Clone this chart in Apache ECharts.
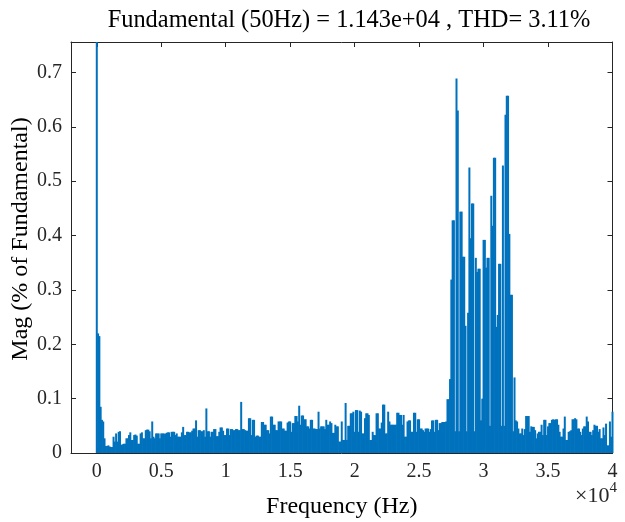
<!DOCTYPE html>
<html><head><meta charset="utf-8">
<script src="https://cdn.jsdelivr.net/npm/echarts@6/dist/echarts.min.js"></script>
<style>html,body{margin:0;padding:0;background:#fff}#c{width:625px;height:522px}</style>
</head><body><div id="c"></div>
<script>
const titleText = 'Fundamental (50Hz) = 1.143e+04 , THD= 3.11%';
const xAxisName = 'Frequency (Hz)';
const yAxisName = 'Mag (% of Fundamental)';
const xExponentText = '×10';
const xExponent = '4';
const freqStepHz = 100;
const xTickValues = [0, 5000, 10000, 15000, 20000, 25000, 30000, 35000, 40000];
const xTickLabels = ['0', '0.5', '1', '1.5', '2', '2.5', '3', '3.5', '4'];
const yTickValues = [0, 0.1, 0.2, 0.3, 0.4, 0.5, 0.6, 0.7];
const yTickLabels = ['0', '0.1', '0.2', '0.3', '0.4', '0.5', '0.6', '0.7'];

// Harmonic magnitude (% of fundamental), one value per 100 Hz bin, 0 .. 40000 Hz
const magPercent = [
 100, 0.22, 0.215, 0.085, 0.061, 0.058, 0.027, 0.013, 0.013, 0.014,
 0.012, 0.011, 0.011, 0.030, 0.021, 0.036, 0.021, 0.039, 0.040, 0.015,
 0.016, 0.017, 0.017, 0.027, 0.027, 0.033, 0.038, 0.024, 0.024, 0.033,
 0.034, 0.032, 0.017, 0.017, 0.036, 0.038, 0.027, 0.027, 0.042, 0.043,
 0.043, 0.040, 0.027, 0.058, 0.030, 0.027, 0.036, 0.036, 0.036, 0.027,
 0.036, 0.036, 0.036, 0.035, 0.037, 0.038, 0.038, 0.030, 0.039, 0.039,
 0.039, 0.033, 0.036, 0.030, 0.030, 0.030, 0.038, 0.048, 0.033, 0.033,
 0.039, 0.039, 0.038, 0.038, 0.041, 0.045, 0.045, 0.060, 0.030, 0.042,
 0.042, 0.040, 0.040, 0.042, 0.030, 0.082, 0.040, 0.040, 0.030, 0.039,
 0.039, 0.044, 0.044, 0.031, 0.031, 0.039, 0.047, 0.047, 0.041, 0.033,
 0.033, 0.045, 0.045, 0.033, 0.044, 0.044, 0.042, 0.042, 0.044, 0.044,
 0.042, 0.042, 0.094, 0.044, 0.044, 0.042, 0.041, 0.041, 0.064, 0.064,
 0.033, 0.061, 0.061, 0.030, 0.032, 0.032, 0.030, 0.030, 0.057, 0.057,
 0.052, 0.052, 0.042, 0.042, 0.036, 0.067, 0.067, 0.052, 0.052, 0.042,
 0.042, 0.058, 0.058, 0.058, 0.045, 0.045, 0.041, 0.041, 0.056, 0.058,
 0.058, 0.039, 0.055, 0.055, 0.068, 0.068, 0.058, 0.087, 0.052, 0.069,
 0.069, 0.062, 0.062, 0.049, 0.049, 0.045, 0.061, 0.061, 0.045, 0.045,
 0.044, 0.044, 0.076, 0.045, 0.049, 0.049, 0.049, 0.044, 0.061, 0.052,
 0.052, 0.058, 0.055, 0.037, 0.037, 0.052, 0.049, 0.049, 0.021, 0.021,
 0.058, 0.024, 0.024, 0.092, 0.024, 0.050, 0.050, 0.073, 0.073, 0.076,
 0.039, 0.079, 0.079, 0.039, 0.078, 0.076, 0.036, 0.036, 0.064, 0.073,
 0.073, 0.070, 0.024, 0.024, 0.039, 0.033, 0.033, 0.073, 0.073, 0.045,
 0.045, 0.056, 0.089, 0.089, 0.036, 0.036, 0.076, 0.058, 0.052, 0.052,
 0.052, 0.052, 0.052, 0.074, 0.074, 0.070, 0.070, 0.052, 0.070, 0.030,
 0.030, 0.058, 0.060, 0.060, 0.039, 0.039, 0.074, 0.074, 0.039, 0.062,
 0.062, 0.045, 0.045, 0.042, 0.039, 0.045, 0.045, 0.045, 0.039, 0.044,
 0.060, 0.060, 0.039, 0.061, 0.061, 0.042, 0.055, 0.055, 0.057, 0.057,
 0.057, 0.058, 0.099, 0.099, 0.136, 0.319, 0.428, 0.428, 0.040, 0.689,
 0.630, 0.040, 0.444, 0.444, 0.361, 0.361, 0.234, 0.040, 0.258, 0.525,
 0.395, 0.459, 0.459, 0.040, 0.359, 0.333, 0.339, 0.339, 0.060, 0.100,
 0.392, 0.392, 0.341, 0.359, 0.359, 0.050, 0.473, 0.418, 0.543, 0.543,
 0.232, 0.254, 0.348, 0.348, 0.050, 0.529, 0.050, 0.622, 0.657, 0.657,
 0.403, 0.291, 0.291, 0.040, 0.139, 0.060, 0.058, 0.045, 0.036, 0.036,
 0.045, 0.033, 0.044, 0.068, 0.068, 0.068, 0.039, 0.049, 0.048, 0.048,
 0.042, 0.027, 0.036, 0.039, 0.039, 0.052, 0.033, 0.061, 0.061, 0.033,
 0.049, 0.055, 0.055, 0.061, 0.062, 0.061, 0.062, 0.062, 0.052, 0.039,
 0.030, 0.030, 0.045, 0.067, 0.024, 0.024, 0.039, 0.040, 0.042, 0.062,
 0.062, 0.064, 0.062, 0.045, 0.045, 0.039, 0.033, 0.045, 0.049, 0.049,
 0.067, 0.058, 0.039, 0.039, 0.033, 0.042, 0.052, 0.050, 0.050, 0.039,
 0.044, 0.027, 0.027, 0.047, 0.033, 0.054, 0.014, 0.014, 0.058, 0.030,
 0.076
];

const seriesData = magPercent.map((v, i) => [i * freqStepHz, v]);

const FONT = 'Liberation Serif';
const AX = '#262626';
const chart = echarts.init(document.getElementById('c'), null, {renderer: 'canvas'});

const xCommon = {
  type: 'value', min: -2000, max: 40000,
  axisLine: {show: true, onZero: false, lineStyle: {color: AX, width: 1}},
  axisTick: {show: true, inside: true, length: 5, customValues: xTickValues, lineStyle: {color: AX}},
  splitLine: {show: false}
};
const yCommon = {
  type: 'value', min: 0, max: 0.756,
  axisLine: {show: true, onZero: false, lineStyle: {color: AX, width: 1}},
  axisTick: {show: true, inside: true, length: 5, customValues: yTickValues, lineStyle: {color: AX}},
  splitLine: {show: false}
};

chart.setOption({
  animation: false,
  backgroundColor: '#fff',
  title: {
    text: titleText, left: 344, top: 4, textAlign: 'center',
    textStyle: {fontFamily: FONT, fontSize: 24.4, fontWeight: 'normal', color: '#000'}
  },
  grid: {left: 71, right: 12.5, top: 42, bottom: 69, containLabel: false, outerBoundsMode: 'none'},
  xAxis: [
    Object.assign({}, xCommon, {
      position: 'bottom',
      name: xAxisName, nameLocation: 'middle', nameGap: 42,
      nameTextStyle: {fontFamily: FONT, fontSize: 24, color: '#000'},
      axisLabel: {
        show: true, customValues: xTickValues, margin: 9,
        fontFamily: FONT, fontSize: 20, color: AX,
        formatter: v => xTickLabels[xTickValues.indexOf(v)]
      }
    }),
    Object.assign({}, xCommon, {position: 'top', axisLabel: {show: false}})
  ],
  yAxis: [
    Object.assign({}, yCommon, {
      position: 'left',
      axisLabel: {
        show: true, customValues: yTickValues, margin: 9,
        fontFamily: FONT, fontSize: 20, color: AX,
        formatter: v => yTickLabels[yTickValues.indexOf(v)]
      }
    }),
    Object.assign({}, yCommon, {position: 'right', axisLabel: {show: false}})
  ],
  graphic: [{
    type: 'text', x: 21, y: 239, rotation: Math.PI / 2,
    style: {
      text: yAxisName, fontFamily: FONT, fontSize: 24, fill: '#000',
      align: 'center', verticalAlign: 'middle'
    }
  }, {
    type: 'text', left: 575, top: 481,
    style: {
      text: '{a|' + xExponentText + '}{b|' + xExponent + '}',
      rich: {
        a: {fontFamily: FONT, fontSize: 22, fill: AX, verticalAlign: 'bottom', lineHeight: 26},
        b: {fontFamily: FONT, fontSize: 15, fill: AX, verticalAlign: 'top', lineHeight: 26}
      }
    }
  }],
  series: [{
    type: 'bar', xAxisIndex: 0, yAxisIndex: 0,
    data: seriesData, barWidth: 2, clip: true,
    itemStyle: {color: '#0072BD'}
  }]
});
</script></body></html>
